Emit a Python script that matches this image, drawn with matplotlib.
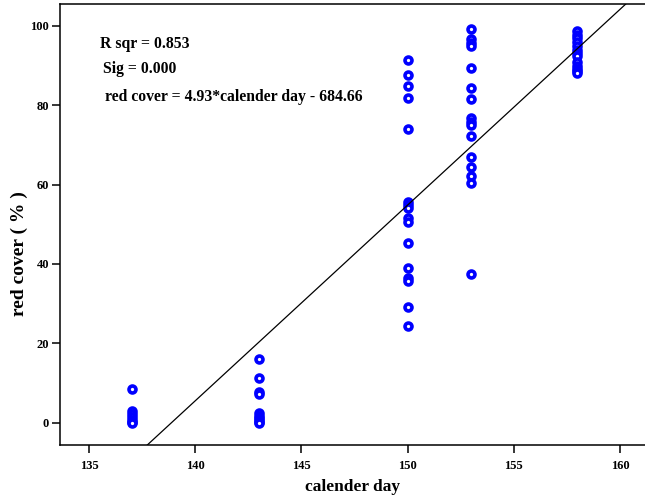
import numpy as np
import matplotlib
matplotlib.use("Agg")
import matplotlib.pyplot as plt

# --- donnees ---
jours = [137, 143, 150, 153, 158]
couv_137 = [8.5, 3.0, 2.2, 1.5, 0.8, 0.3, 0.0]
couv_143 = [16.0, 11.2, 7.8, 7.2, 2.4, 1.8, 1.2, 0.6, 0.2, 0.0]
couv_150 = [91.4, 87.6, 84.9, 81.9, 74.0, 55.7, 54.8, 54.2, 51.5, 50.6,
            45.4, 38.9, 36.4, 35.8, 29.1, 24.4]
couv_153 = [99.1, 96.8, 95.6, 94.9, 89.4, 84.4, 81.5, 76.7, 75.8, 75.0,
            72.3, 67.0, 64.5, 62.1, 60.3, 37.5]
couv_158 = [98.6, 97.8, 97.0, 96.0, 95.0, 94.0, 93.2, 92.3, 91.0, 90.0,
            89.2, 88.6, 88.0]
pente, ordonnee = 4.93, -684.66
textes = ["R sqr = 0.853", "Sig = 0.000",
          "red cover = 4.93*calender day - 684.66"]
xticks = [135, 140, 145, 150, 155, 160]
yticks = [0, 20, 40, 60, 80, 100]

plt.rcParams['font.family'] = ['Liberation Serif', 'DejaVu Serif']
plt.rcParams['font.weight'] = 'bold'

fig = plt.figure(figsize=(6.45, 5.01), dpi=100)
ax = fig.add_axes([60/645, 56/501, 585/645, 441/501])

groupes = [couv_137, couv_143, couv_150, couv_153, couv_158]
for j, g in zip(jours, groupes):
    ax.plot([j]*len(g), g, ls='none', marker='o', ms=5, mew=2.6,
            mfc='white', mec='blue')

xlim = (133.63, 161.18)
xs = np.array(xlim)
ax.plot(xs, pente*xs + ordonnee, color='black', lw=0.9)

ax.set_xlim(*xlim)
ax.set_ylim(-5.6, 105.5)
ax.set_xticks(xticks)
ax.set_yticks(yticks)
ax.tick_params(direction='out', length=6, width=1.1, labelsize=9, pad=2)
ax.tick_params(axis='x', pad=5)
for s in ax.spines.values():
    s.set_linewidth(1.1)
ax.spines['right'].set_visible(False)

ax.set_xlabel("calender day", fontsize=12.5, fontweight='bold', labelpad=5)
ax.set_ylabel("red cover ( % )", fontsize=14, fontweight='bold')
ax.yaxis.set_label_coords(-0.055, 0.435)

# annotations
pos = [(100, 44), (103, 69), (105, 97)]
for (px, py), t in zip(pos, textes):
    fig.text(px/645, 1 - py/501, t, fontsize=11.3, fontweight='bold',
             ha='left', va='center')

fig.savefig("out.png", dpi=100)
